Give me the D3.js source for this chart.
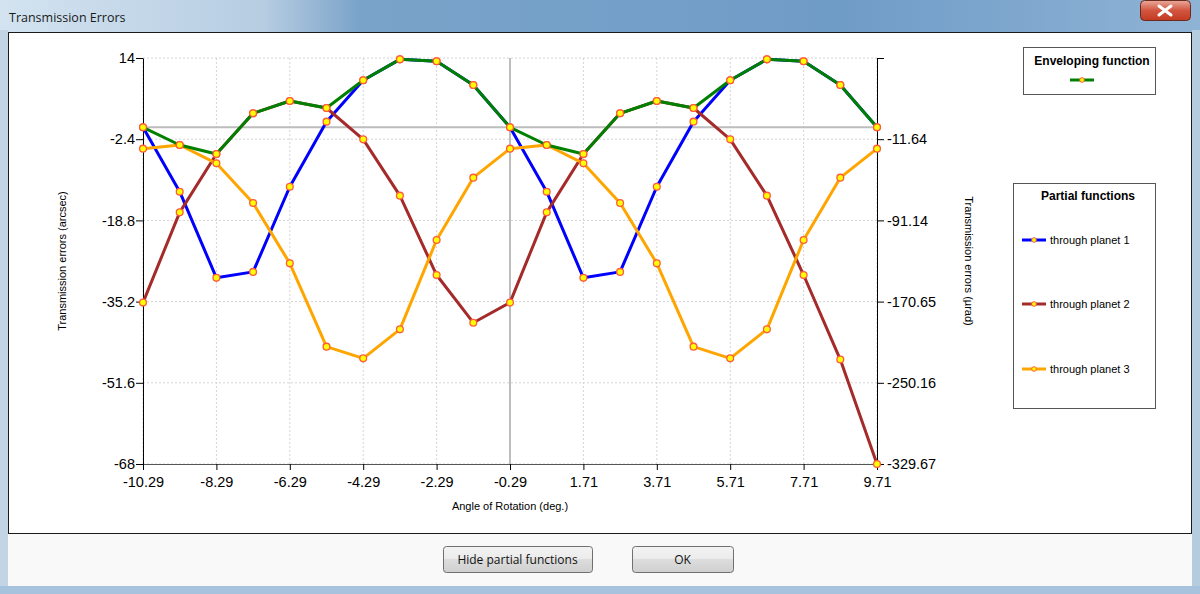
<!DOCTYPE html>
<html><head><meta charset="utf-8">
<script src="https://cdn.jsdelivr.net/npm/d3@7"></script>
<style>
body{margin:0;padding:0;overflow:hidden;background:#fff;}
svg{display:block;}
</style></head><body>
<svg id="c" width="1200" height="594"></svg>
<script>
// ---- data ----
const angles = [-10.29,-9.29,-8.29,-7.29,-6.29,-5.29,-4.29,-3.29,-2.29,-1.29,-0.29,0.71,1.71,2.71,3.71,4.71,5.71,6.71,7.71,8.71,9.71];
const envelope = [0,-3.57,-5.39,2.83,5.32,3.9,9.5,13.73,13.33,8.55,0,-3.57,-5.39,2.83,5.32,3.9,9.5,13.73,13.33,8.55,0];
const planet1 = [0,-13.0,-30.4,-29.2,-12.0,1.14,9.5,13.73,13.33,8.55,0,-13.0,-30.4,-29.2,-12.0,1.14,9.5,13.73,13.33,8.55,0];
const planet2 = [-35.4,-17.17,-5.39,2.83,5.32,3.9,-2.43,-13.8,-29.83,-39.46,-35.4,-17.17,-5.39,2.83,5.32,3.9,-2.43,-13.8,-29.83,-46.9,-68];
const planet3 = [-4.31,-3.57,-7.27,-15.29,-27.47,-44.3,-46.66,-40.8,-22.76,-10.17,-4.31,-3.57,-7.27,-15.29,-27.47,-44.3,-46.66,-40.8,-22.76,-10.17,-4.31];
const xTicks = [-10.29,-8.29,-6.29,-4.29,-2.29,-0.29,1.71,3.71,5.71,7.71,9.71];
const xTickLabels = ["-10.29","-8.29","-6.29","-4.29","-2.29","-0.29","1.71","3.71","5.71","7.71","9.71"];
const yTicks = [14,-2.4,-18.8,-35.2,-51.6,-68];
const yTickLabels = ["14","-2.4","-18.8","-35.2","-51.6","-68"];
const yRightLabels = ["","-11.64","-91.14","-170.65","-250.16","-329.67"];
const partialNames = ["through planet 1","through planet 2","through planet 3"];
const partialColors = ["#0000ff","#a52a2a","#ffa500"];
const envelopeColor = "#008000";

const svg = d3.select("#c");
const defs = svg.append("defs");

// ---- window chrome ----
const tg = defs.append("linearGradient").attr("id","tg").attr("x1",0).attr("x2",1).attr("y1",0).attr("y2",0);
tg.append("stop").attr("offset",0).attr("stop-color","#d3e3f0");
tg.append("stop").attr("offset",0.22).attr("stop-color","#b6cde2");
tg.append("stop").attr("offset",0.3).attr("stop-color","#7aa3c9");
tg.append("stop").attr("offset",0.7).attr("stop-color","#6f9cc7");
tg.append("stop").attr("offset",1).attr("stop-color","#8fb3d5");
svg.append("rect").attr("x",0).attr("y",0).attr("width",1200).attr("height",594).attr("fill","url(#tg)");
svg.append("rect").attr("x",0).attr("y",30).attr("width",8).attr("height",564).attr("fill","#c3d5e5");
svg.append("rect").attr("x",1192).attr("y",30).attr("width",8).attr("height",564).attr("fill","#b5cce0");
svg.append("rect").attr("x",0).attr("y",586).attr("width",1200).attr("height",8).attr("fill","#a7c2dc");
svg.append("text").attr("x",9).attr("y",22).attr("font-family","'Open Sans','Noto Sans',sans-serif")
  .attr("font-size",12.5).attr("fill","#1a1a1a").text("Transmission Errors");
// close button
const cg = defs.append("linearGradient").attr("id","cg").attr("x1",0).attr("x2",0).attr("y1",0).attr("y2",1);
cg.append("stop").attr("offset",0).attr("stop-color","#e9a99c");
cg.append("stop").attr("offset",0.5).attr("stop-color","#d2553f");
cg.append("stop").attr("offset",1).attr("stop-color","#c23a22");
svg.append("rect").attr("x",1140.5).attr("y",0.5).attr("width",50).attr("height",20).attr("rx",4)
  .attr("fill","url(#cg)").attr("stroke","#6b2a20").attr("stroke-width",1);
svg.append("path").attr("d","M1159,6 L1171,15 M1171,6 L1159,15").attr("stroke","#fff").attr("stroke-width",3).attr("stroke-linecap","round");

// client area
svg.append("rect").attr("x",8).attr("y",32).attr("width",1184).attr("height",554).attr("fill","#f9f9f9");
svg.append("rect").attr("x",8.5).attr("y",32.5).attr("width",1183).attr("height",501).attr("fill","#fff").attr("stroke","#1a1a1a").attr("stroke-width",1);

// buttons
const bg = defs.append("linearGradient").attr("id","bg").attr("x1",0).attr("x2",0).attr("y1",0).attr("y2",1);
bg.append("stop").attr("offset",0).attr("stop-color","#f3f3f3");
bg.append("stop").attr("offset",0.5).attr("stop-color","#ebebeb");
bg.append("stop").attr("offset",0.5).attr("stop-color","#dddddd");
bg.append("stop").attr("offset",1).attr("stop-color","#cfcfcf");
const buttons = [{x:443,w:149,t:"Hide partial functions"},{x:632,w:101,t:"OK"}];
buttons.forEach(b=>{
  svg.append("rect").attr("x",b.x+0.5).attr("y",546.5).attr("width",b.w).attr("height",26).attr("rx",3)
    .attr("fill","url(#bg)").attr("stroke","#707070");
  svg.append("text").attr("x",b.x+b.w/2).attr("y",564).attr("text-anchor","middle")
    .attr("font-family","'Open Sans','Noto Sans',sans-serif").attr("font-size",12).attr("fill","#111").text(b.t);
});

// ---- chart ----
const x = d3.scaleLinear().domain([-10.29, 9.71]).range([143, 877]);
const y = d3.scaleLinear().domain([-68, 14]).range([464, 58]);
const font = "'Liberation Sans',Arial,sans-serif";

const g = svg.append("g");
// grid
g.selectAll(".vg").data(xTicks).enter().append("line")
  .attr("x1",d=>x(d)).attr("x2",d=>x(d)).attr("y1",58).attr("y2",464)
  .attr("stroke","#d4d4d4").attr("stroke-width",1).attr("stroke-dasharray","2,2");
g.selectAll(".hg").data(yTicks).enter().append("line")
  .attr("x1",143).attr("x2",877).attr("y1",d=>y(d)).attr("y2",d=>y(d))
  .attr("stroke","#d4d4d4").attr("stroke-width",1).attr("stroke-dasharray","2,2");
// zero / centre lines
g.append("line").attr("x1",143).attr("x2",877).attr("y1",y(0)).attr("y2",y(0)).attr("stroke","#bdbdbd").attr("stroke-width",2);
g.append("line").attr("x1",x(-0.29)).attr("x2",x(-0.29)).attr("y1",58).attr("y2",464).attr("stroke","#bdbdbd").attr("stroke-width",2);

// axes
const axL = d3.axisLeft(y).tickValues(yTicks).tickFormat((d,i)=>yTickLabels[i]).tickSize(7).tickSizeOuter(0);
const axR = d3.axisRight(y).tickValues(yTicks).tickFormat((d,i)=>yRightLabels[i]).tickSize(7).tickSizeOuter(0);
const axB = d3.axisBottom(x).tickValues(xTicks).tickFormat((d,i)=>xTickLabels[i]).tickSize(6).tickSizeOuter(0);
function style(sel){
  sel.selectAll("text").attr("font-family",font).attr("font-size",14.5).attr("fill","#000");
  sel.selectAll("line").attr("stroke","#000");
  sel.select(".domain").attr("stroke","#000");
}
g.append("g").attr("transform","translate(143,0)").call(axL).call(style).call(s=>s.selectAll("text").attr("x",-8));
g.append("g").attr("transform","translate(877,0)").call(axR).call(style).call(s=>s.selectAll("text").attr("x",10));
g.append("g").attr("transform","translate(0,464)").call(axB).call(style)
  .call(s=>{s.select(".domain").attr("stroke","#555");s.selectAll("text").attr("y",13);});

// axis titles
svg.append("text").attr("x",510).attr("y",510).attr("text-anchor","middle").attr("font-family",font).attr("font-size",11).text("Angle of Rotation (deg.)");
svg.append("text").attr("transform","translate(66,261) rotate(-90)").attr("text-anchor","middle").attr("font-family",font).attr("font-size",11).text("Transmission errors (arcsec)");
svg.append("text").attr("transform","translate(965,261) rotate(90)").attr("text-anchor","middle").attr("font-family",font).attr("font-size",11).text("Transmission errors (µrad)");

// series
const line = d3.line().x((d,i)=>x(angles[i])).y(d=>y(d));
const series = [
  {v:planet1,c:partialColors[0]},
  {v:planet2,c:partialColors[1]},
  {v:planet3,c:partialColors[2]},
  {v:envelope,c:envelopeColor}
];
series.forEach(s=>{
  g.append("path").datum(s.v).attr("d",line).attr("fill","none").attr("stroke",s.c).attr("stroke-width",3).attr("stroke-linejoin","round");
  g.selectAll(null).data(s.v).enter().append("circle")
    .attr("cx",(d,i)=>x(angles[i])).attr("cy",d=>y(d)).attr("r",3.4)
    .attr("fill","#ffff00").attr("stroke","#ff5a3c").attr("stroke-width",1.3);
});

// legends
function swatch(cx, cy, color){
  svg.append("line").attr("x1",cx-12).attr("x2",cx+12).attr("y1",cy).attr("y2",cy).attr("stroke",color).attr("stroke-width",3);
  svg.append("circle").attr("cx",cx).attr("cy",cy).attr("r",2.3).attr("fill","#ffff00").attr("stroke","#ff5a3c").attr("stroke-width",1);
}
svg.append("rect").attr("x",1023.5).attr("y",47.5).attr("width",132).attr("height",47).attr("fill","#fff").attr("stroke","#555").attr("stroke-width",1);
svg.append("text").attr("x",1092).attr("y",65).attr("text-anchor","middle").attr("font-family",font).attr("font-weight","bold").attr("font-size",12).text("Enveloping function");
swatch(1082,80,envelopeColor);

svg.append("rect").attr("x",1013.5).attr("y",183.5).attr("width",142).attr("height",225).attr("fill","#fff").attr("stroke","#555").attr("stroke-width",1);
svg.append("text").attr("x",1088).attr("y",200).attr("text-anchor","middle").attr("font-family",font).attr("font-weight","bold").attr("font-size",12).text("Partial functions");
const legY = [240,304,369];
partialNames.forEach((n,i)=>{
  swatch(1034,legY[i],partialColors[i]);
  svg.append("text").attr("x",1050).attr("y",legY[i]+4).attr("font-family",font).attr("font-size",11).text(n);
});
</script>
</body></html>
